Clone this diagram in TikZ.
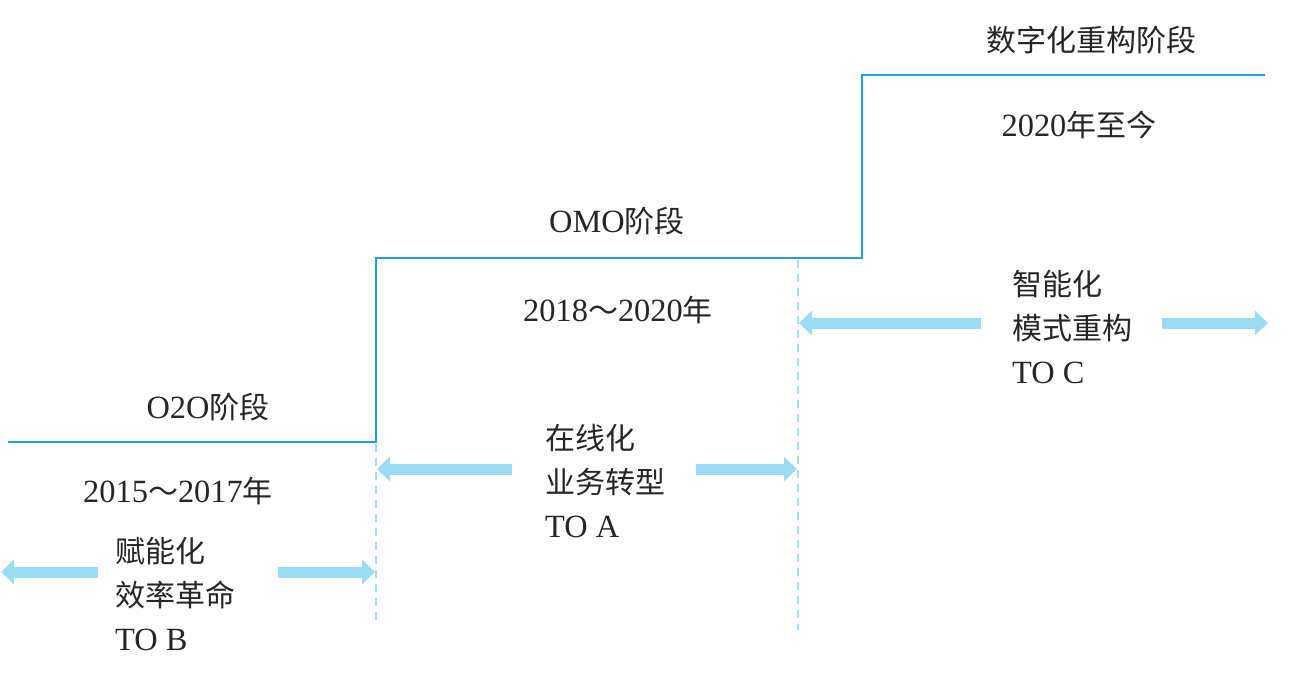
\documentclass[tikz,border=0pt]{standalone}
\usepackage{fontspec}
\setmainfont[Scale=1.08]{Liberation Serif}
\newfontfamily\cjk{Noto Sans CJK SC}
\usetikzlibrary{arrows.meta}
\definecolor{stepblue}{HTML}{1BA3D9}
\definecolor{arrowblue}{HTML}{9BDCF5}
\definecolor{dashblue}{HTML}{A6DAEE}
\newcommand{\zh}[1]{{\cjk #1}}
\tikzset{
  lbl/.style={inner sep=0pt, font=\fontsize{30}{44}\selectfont, text=black!85},
  blk/.style={lbl, align=left, anchor=west},
  stepline/.style={draw=stepblue, line width=2pt},
  guide/.style={draw=dashblue, line width=1.6pt, dash pattern=on 8pt off 6pt},
  fatarrow/.style={draw=arrowblue, line width=11pt, -{Triangle[width=24pt,length=13pt]}},
}
\begin{document}
\begin{tikzpicture}[x=1pt, y=-1pt]
\useasboundingbox (0,0) rectangle (1308,683);
% step line corners
\coordinate (s0) at (8,442);
\coordinate (s1) at (376,442);
\coordinate (s2) at (376,258);
\coordinate (s3) at (862,258);
\coordinate (s4) at (862,75);
\coordinate (s5) at (1265,75);
\draw[stepline] (s0) -- (s1) -- (s2) -- (s3) -- (s4) -- (s5);
% guides
\coordinate (g1t) at (376,444);
\coordinate (g1b) at (376,625);
\coordinate (g2t) at (798,260);
\coordinate (g2b) at (798,630);
\draw[guide] (g1t) -- (g1b);
\draw[guide] (g2t) -- (g2b);
% labels
\node[lbl] (o2o) at (208,407) {O2O\zh{阶段}};
\node[lbl] (y1) at (178,491) {2015\zh{～}2017\zh{年}};
\node[blk] (b1) at (115,594) {\zh{赋能化}\\\zh{效率革命}\\TO B};
\node[lbl] (omo) at (617,221) {OMO\zh{阶段}};
\node[lbl] (y2) at (618,310) {2018\zh{～}2020\zh{年}};
\node[blk] (b2) at (545,481) {\zh{在线化}\\\zh{业务转型}\\TO A};
\node[lbl] (dig) at (1091,40) {\zh{数字化重构阶段}};
\node[lbl] (y3) at (1079,125) {2020\zh{年至今}};
\node[blk] (b3) at (1012,327) {\zh{智能化}\\\zh{模式重构}\\TO C};
% arrows
\coordinate (a1l0) at (98,572);  \coordinate (a1l1) at (1,572);
\coordinate (a1r0) at (278,572); \coordinate (a1r1) at (375,572);
\coordinate (a2l0) at (512,469); \coordinate (a2l1) at (377,469);
\coordinate (a2r0) at (696,469); \coordinate (a2r1) at (797,469);
\coordinate (a3l0) at (981,323); \coordinate (a3l1) at (799,323);
\coordinate (a3r0) at (1162,323); \coordinate (a3r1) at (1268,323);
\draw[fatarrow] (a1l0) -- (a1l1);
\draw[fatarrow] (a1r0) -- (a1r1);
\draw[fatarrow] (a2l0) -- (a2l1);
\draw[fatarrow] (a2r0) -- (a2r1);
\draw[fatarrow] (a3l0) -- (a3l1);
\draw[fatarrow] (a3r0) -- (a3r1);
\end{tikzpicture}
\end{document}
